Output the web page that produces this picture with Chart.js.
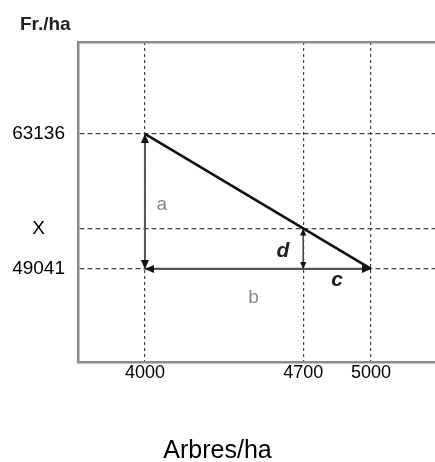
<!DOCTYPE html>
<html lang="fr">
<head>
<meta charset="UTF-8">
<title>Interpolation linéaire</title>
<script src="https://cdn.jsdelivr.net/npm/chart.js"></script>
<style>
  body { margin: 0; background: #fff; font-family: Arial, sans-serif; }
  #cadre { width: 435px; height: 462px; }
</style>
</head>
<body>
<div id="cadre"><canvas id="graf"></canvas></div>
<script>
  // valeurs
  const arbres = [4000, 4700, 5000];            // graduations x (arbres/ha)
  const valeurs = [49041, 53270, 63136];        // graduations y (Fr./ha), 53270 = X
  const etiquettesY = ['49041', 'X', '63136'];
  const droite = [{ x: 4000, y: 63136 }, { x: 5000, y: 49041 }];
  const flecheA = [{ x: 4000, y: 63136 }, { x: 4000, y: 49041 }];
  const flecheBC = [{ x: 4000, y: 49041 }, { x: 5000, y: 49041 }];
  const flecheD = [{ x: 4700, y: 53270 }, { x: 4700, y: 49041 }];

  // pointe de fleche, sommet sur "vers"
  function pointe(ctx, depuis, vers, taille) {
    const ang = Math.atan2(vers.y - depuis.y, vers.x - depuis.x);
    ctx.save();
    ctx.translate(vers.x, vers.y);
    ctx.rotate(ang);
    ctx.beginPath();
    ctx.moveTo(0, 0);
    ctx.lineTo(-taille, -taille * 0.45);
    ctx.lineTo(-taille, taille * 0.45);
    ctx.closePath();
    ctx.fillStyle = '#111';
    ctx.fill();
    ctx.restore();
  }

  const fleches = {
    id: 'fleches',
    afterDatasetsDraw(chart, args, opts) {
      const ctx = chart.ctx;
      chart.data.datasets.forEach((ds, i) => {
        if (!ds.pointe) return;
        const pts = chart.getDatasetMeta(i).data;
        const a = pts[0], b = pts[pts.length - 1];
        pointe(ctx, b, a, ds.pointe);
        pointe(ctx, a, b, ds.pointe);
      });
      const sx = chart.scales.x, sy = chart.scales.y;
      ctx.save();
      ctx.textAlign = 'center';
      ctx.textBaseline = 'middle';
      opts.lettres.forEach(l => {
        ctx.font = l.font;
        ctx.fillStyle = l.couleur;
        ctx.fillText(l.texte, sx.getPixelForValue(l.x), sy.getPixelForValue(l.y));
      });
      // unite de l'axe vertical
      ctx.font = 'bold 19px Arial';
      ctx.fillStyle = '#222';
      ctx.textAlign = 'left';
      ctx.fillText('Fr./ha', chart.chartArea.left - 58, chart.chartArea.top - 17);
      ctx.restore();
    }
  };

  const tirets = (liste) => (s) => { s.ticks = liste.map(v => ({ value: v })); };

  new Chart(document.getElementById('graf'), {
    type: 'scatter',
    data: {
      datasets: [
        { data: droite, showLine: true, borderColor: '#111', borderWidth: 2.6, pointRadius: 0 },
        { data: flecheA, showLine: true, borderColor: '#555', borderWidth: 2, pointRadius: 0, pointe: 9 },
        { data: flecheBC, showLine: true, borderColor: '#555', borderWidth: 2.2, pointRadius: 0, pointe: 9 },
        { data: flecheD, showLine: true, borderColor: '#444', borderWidth: 1.5, pointRadius: 0, pointe: 7 }
      ]
    },
    options: {
      animation: false,
      responsive: true,
      maintainAspectRatio: false,
      layout: { padding: { top: 42, left: 0, right: 0, bottom: 0 } },
      scales: {
        x: {
          type: 'linear',
          position: 'bottom',
          min: 3704,
          max: 5283,
          afterBuildTicks: tirets(arbres),
          ticks: {
            color: '#000',
            font: { family: 'Arial', size: 18 },
            padding: 0,
            maxRotation: 0,
            autoSkip: false,
            callback: (v) => String(v)
          },
          grid: { color: '#444', lineWidth: 1.2, drawTicks: false },
          border: { color: '#8c8c8c', width: 2.5, dash: [3, 3] }
        },
        x2: {
          type: 'linear',
          position: 'top',
          ticks: { display: false },
          grid: { display: false, drawTicks: false },
          border: { color: '#8c8c8c', width: 2.5 }
        },
        y: {
          type: 'linear',
          min: 39332,
          max: 72741,
          afterBuildTicks: tirets(valeurs),
          afterFit: (s) => { s.width = 78; },
          ticks: {
            color: '#000',
            font: { family: 'Arial', size: 19 },
            padding: 13,
            crossAlign: 'center',
            callback: (v) => etiquettesY[valeurs.indexOf(v)]
          },
          grid: { color: '#444', lineWidth: 1.2, drawTicks: false },
          border: { color: '#8c8c8c', width: 2.5, dash: [5, 3] }
        }
      },
      plugins: {
        legend: { display: false },
        tooltip: { enabled: false },
        title: {
          display: true,
          position: 'bottom',
          text: 'Arbres/ha',
          color: '#000',
          font: { family: 'Arial', size: 25, weight: 'normal', lineHeight: 0.9 },
          padding: { top: 56, bottom: 0 }
        },
        fleches: {
          lettres: [
            { texte: 'a', x: 4075, y: 55700, font: '19px Arial', couleur: '#888' },
            { texte: 'b', x: 4480, y: 46000, font: '19px Arial', couleur: '#888' },
            { texte: 'c', x: 4850, y: 47900, font: 'italic bold 21px Arial', couleur: '#222' },
            { texte: 'd', x: 4610, y: 50900, font: 'italic bold 21px Arial', couleur: '#222' }
          ]
        }
      }
    },
    plugins: [fleches]
  });
</script>
</body>
</html>
